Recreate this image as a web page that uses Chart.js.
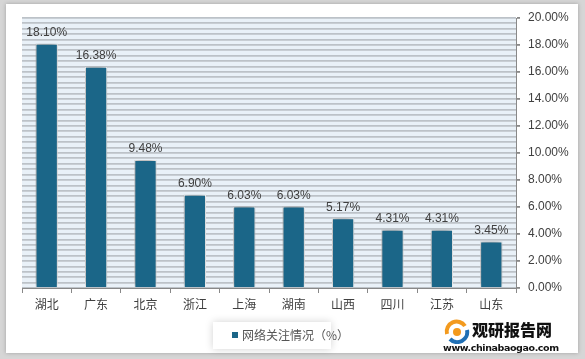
<!DOCTYPE html>
<html>
<head>
<meta charset="utf-8">
<script src="https://cdn.jsdelivr.net/npm/chart.js@4/dist/chart.umd.min.js"></script>
<style>
  body { margin: 0; background: #d6d6d6; width: 585px; height: 359px; overflow: hidden; }
  #frame { position: absolute; left: 6px; top: 4px; width: 572px; height: 349px; background: #fff;
           box-shadow: 0 0 4px rgba(0,0,0,0.25); }
  #wrap { position: absolute; left: 0; top: 0; width: 585px; height: 359px; }
  #logo { position: absolute; left: 443px; top: 318px; width: 130px; height: 38px; font-family: "Noto Sans CJK SC", sans-serif; white-space: nowrap; }
  #logo .cn { position: absolute; left: 29px; top: 0px; font-size: 16px; font-weight: 900; color: #111; line-height: 22px; }
  #logo .url { position: absolute; left: 0px; top: 24px; font-size: 9.5px; font-weight: bold; color: #111; font-family: "DejaVu Sans", sans-serif; letter-spacing: -0.4px; }
</style>
</head>
<body>
<div id="frame"></div>
<div id="wrap"><canvas id="barChart" width="585" height="359"></canvas></div>
<div id="logo">
  <svg width="28" height="26" style="position:absolute;left:0;top:0">
    <path d="M4 16 A10 10 0 0 1 22 8" stroke="#f39a1e" stroke-width="4" fill="none"/>
    <path d="M24 12 A10 10 0 0 1 7 21" stroke="#1f6fb5" stroke-width="4" fill="none"/>
    <circle cx="14" cy="14" r="4" fill="#f39a1e"/>
  </svg>
  <div class="cn">观研报告网</div>
  <div class="url">www.chinabaogao.com</div>
</div>
<script>
var categories = ["湖北", "广东", "北京", "浙江", "上海", "湖南", "山西", "四川", "江苏", "山东"];
var values = [18.10, 16.38, 9.48, 6.90, 6.03, 6.03, 5.17, 4.31, 4.31, 3.45];
var seriesName = "网络关注情况（%）";
var yMax = 20;
var yLabelStep = 2;
var stripeStep = 0.4;

var labelFont = '"Liberation Sans", "Noto Sans CJK SC", sans-serif';

function isMajor(v) {
  return Math.abs(v / yLabelStep - Math.round(v / yLabelStep)) < 1e-6;
}

var chartDecor = {
  id: "chartDecor",
  beforeDraw: function(chart) {
    var a = chart.chartArea, ctx = chart.ctx;
    ctx.save();
    ctx.fillStyle = "#e9f1f8";
    ctx.fillRect(a.left, a.top, a.right - a.left, a.bottom - a.top);
    ctx.restore();
  },
  beforeDatasetDraw: function(chart) {
    var ctx = chart.ctx;
    ctx.save();
    ctx.shadowColor = "rgba(0,0,0,0.45)";
    ctx.shadowBlur = 7;
    ctx.shadowOffsetX = -1;
    ctx.shadowOffsetY = -1;
  },
  afterDatasetDraw: function(chart) {
    chart.ctx.restore();
  },
  afterDatasetsDraw: function(chart) {
    var ctx = chart.ctx;
    var meta = chart.getDatasetMeta(0);
    ctx.save();
    ctx.font = "12px " + labelFont;
    ctx.fillStyle = "#404040";
    ctx.textAlign = "center";
    ctx.textBaseline = "bottom";
    meta.data.forEach(function(bar, i) {
      ctx.fillText(values[i].toFixed(2) + "%", bar.x, bar.y - 5);
    });
    // legend box
    var lx = 213, ly = 322, lw = 118, lh = 27;
    ctx.shadowColor = "rgba(0,0,0,0.18)";
    ctx.shadowBlur = 8;
    ctx.fillStyle = "#fff";
    ctx.fillRect(lx, ly, lw, lh);
    ctx.shadowColor = "transparent";
    ctx.fillStyle = chart.data.datasets[0].backgroundColor;
    ctx.fillRect(lx + 19, ly + 10, 6, 6);
    ctx.fillStyle = "#555";
    ctx.textAlign = "left";
    ctx.textBaseline = "middle";
    ctx.font = '12px "Noto Sans CJK SC", sans-serif';
    ctx.fillText(chart.data.datasets[0].label, lx + 29, ly + 13);
    ctx.restore();
  }
};

var ctx = document.getElementById("barChart").getContext("2d");
var myBarChart = new Chart(ctx, {
  type: "bar",
  data: {
    labels: categories,
    datasets: [{
      label: seriesName,
      data: values,
      backgroundColor: "#1b6688",
      borderColor: "#ffffff",
      borderWidth: 1,
      barPercentage: 0.45,
      categoryPercentage: 1.0
    }]
  },
  options: {
    responsive: false,
    animation: false,
    layout: { padding: { left: 22, top: 18, right: 8, bottom: 0 } },
    plugins: { legend: { display: false }, tooltip: { enabled: false } },
    scales: {
      x: {
        grid: { display: true, drawOnChartArea: false, drawTicks: true, tickLength: 5, color: "#888", offset: true },
        border: { display: true, color: "#888" },
        ticks: { color: "#404040", font: { size: 12, family: '"Noto Sans CJK SC", sans-serif' }, padding: 4 },
        afterFit: function(scale) { scale.height = 71; }
      },
      y: {
        position: "right",
        min: 0, max: yMax,
        afterBuildTicks: function(scale) {
          var t = [];
          for (var i = 0; i * stripeStep <= yMax + 1e-6; i++) t.push({ value: i * stripeStep });
          scale.ticks = t;
        },
        ticks: {
          color: "#404040",
          autoSkip: false,
          font: { size: 12, family: labelFont },
          padding: 8,
          callback: function(v) { return isMajor(v) ? v.toFixed(2) + "%" : ""; }
        },
        grid: {
          drawOnChartArea: true,
          drawTicks: true,
          tickLength: 4,
          lineWidth: 1.8,
          color: "#bcc2c8",
          tickColor: function(c) { return c.tick && isMajor(c.tick.value) ? "#888" : "rgba(0,0,0,0)"; }
        },
        border: { display: true, color: "#888" },
        afterFit: function(scale) { scale.width = 61; }
      }
    }
  },
  plugins: [chartDecor]
});
</script>
</body>
</html>
